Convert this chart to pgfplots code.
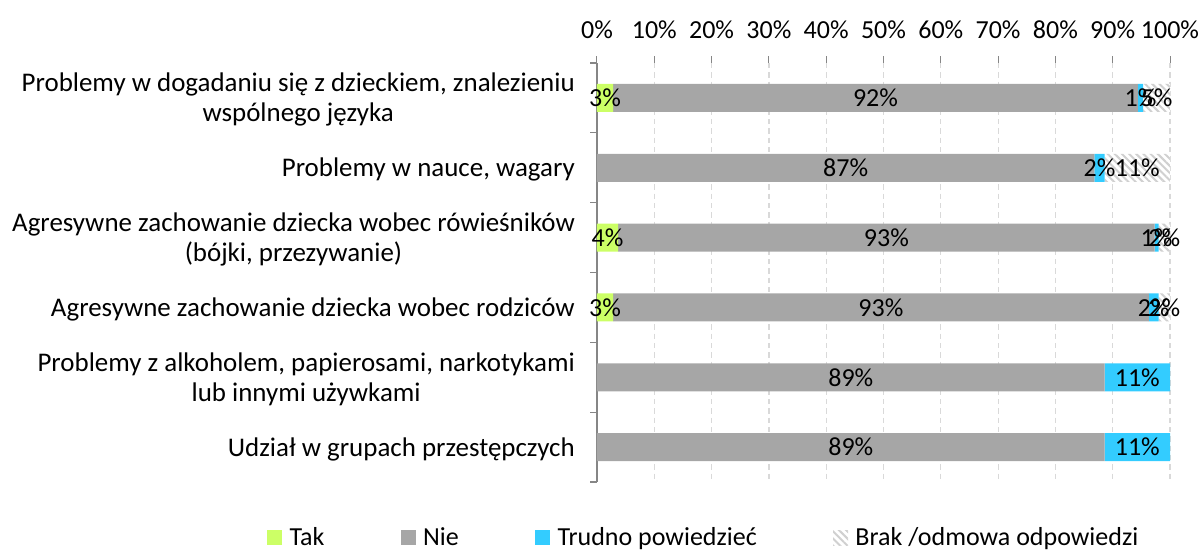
\documentclass[border=0pt]{standalone}
\usepackage{fontspec}
\setmainfont{Carlito}
\usepackage{pgfplots}
\pgfplotsset{compat=1.18}
\usetikzlibrary{patterns.meta}
\definecolor{cTak}{HTML}{CCFF66}
\definecolor{cNie}{HTML}{A6A6A6}
\definecolor{cTP}{HTML}{33CCFF}
\definecolor{hatch}{HTML}{D0D0D0}
\definecolor{axisgray}{HTML}{868686}
\definecolor{gridgray}{HTML}{D9D9D9}
\newcommand{\chartfont}{\fontsize{19.5pt}{23.5pt}\selectfont}
\newcommand{\catfont}{\fontsize{20.2pt}{22.5pt}\selectfont}

\begin{document}
\begin{tikzpicture}
\path[use as bounding box] (0pt,0pt) rectangle (902.25pt,413.25pt);
\begin{axis}[
  at={(447.75pt,51.75pt)}, anchor=south west,
  scale only axis, width=429.75pt, height=314.25pt,
  xbar stacked, bar width=21pt,
  xmin=0, xmax=100, ymin=-0.5, ymax=5.5, y dir=reverse,
  axis x line*=top, axis y line*=left,
  x axis line style={draw=none},
  y axis line style={draw=axisgray, line width=0.9pt},
  tick align=outside, major tick length=5pt,
  xtick={0,10,...,100},
  xticklabels={0\%,10\%,20\%,30\%,40\%,50\%,60\%,70\%,80\%,90\%,100\%},
  xticklabel style={inner sep=0pt, yshift=13pt},
  x tick style={draw=axisgray, line width=0.75pt},
  y tick style={draw=axisgray, line width=0.9pt},
  xmajorgrids,
  grid style={gridgray, dash pattern=on 4pt off 3pt, line width=0.9pt},
  ytick={-0.5,0.5,...,5.5}, yticklabels={},
  extra y ticks={0,1,2,3,4,5},
  extra y tick labels={
    {Problemy w dogadaniu się z dzieckiem, znalezieniu\\wspólnego języka},
    {Problemy w nauce, wagary},
    {Agresywne zachowanie dziecka wobec rówieśników\\(bójki, przezywanie)},
    {Agresywne zachowanie dziecka wobec rodziców},
    {Problemy z alkoholem, papierosami, narkotykami\\lub innymi używkami},
    {Udział w grupach przestępczych}},
  extra y tick style={major tick length=0pt},
  yticklabel style={align=center, inner sep=0pt, xshift=-16.5pt, font=\catfont, yshift=-1.5pt},
  font=\chartfont,
  legend image code/.code={\draw[#1, draw=none] (0pt,-5.625pt) rectangle (11.25pt,5.625pt);},
  legend columns=4,
  legend style={at={(-0.5759,-0.1330)}, anchor=west, draw=none, fill=none,
    inner sep=0pt, font=\chartfont, nodes={inner sep=0pt},
    /tikz/every even column/.append style={column sep=57.25pt},
    /tikz/every odd column/.append style={column sep=5.5pt}},
]
\addplot[fill=cTak, draw=none] coordinates {(2.8,0) (0,1) (3.7,2) (2.8,3) (0,4) (0,5)};
\addlegendentry{Tak}
\addplot[fill=cNie, draw=none] coordinates {(91.6,0) (86.8,1) (93.6,2) (93.5,3) (88.6,4) (88.6,5)};
\addlegendentry{Nie}
\addplot[fill=cTP, draw=none] coordinates {(0.9,0) (1.8,1) (0.7,2) (1.7,3) (11.4,4) (11.4,5)};
\addlegendentry{Trudno powiedzieć}
\addplot[fill=white, draw=none,
  postaction={pattern={Lines[angle=-45,distance=3.8pt,line width=1.5pt]}, pattern color=hatch}]
  coordinates {(4.7,0) (11.4,1) (2.0,2) (2.0,3) (0,4) (0,5)};
\addlegendentry{Brak /odmowa odpowiedzi}
\end{axis}
% data labels, centred in their segments
\begin{axis}[
  at={(447.75pt,51.75pt)}, anchor=south west,
  scale only axis, width=429.75pt, height=314.25pt,
  xmin=0, xmax=100, ymin=-0.5, ymax=5.5, y dir=reverse,
  hide axis, clip=false, font=\chartfont,
]
\addplot[draw=none, mark=none, nodes near coords, point meta=explicit symbolic,
  every node near coord/.append style={anchor=center, inner sep=0pt, text=black, font=\chartfont}]
  coordinates {
  (1.4,0) [3\%] (48.6,0) [92\%] (94.85,0) [1\%] (97.65,0) [5\%]
  (43.4,1) [87\%] (87.7,1) [2\%] (94.3,1) [11\%]
  (1.85,2) [4\%] (50.5,2) [93\%] (97.65,2) [1\%] (99.0,2) [2\%]
  (1.4,3) [3\%] (49.55,3) [93\%] (97.15,3) [2\%] (99.0,3) [2\%]
  (44.3,4) [89\%] (94.3,4) [11\%]
  (44.3,5) [89\%] (94.3,5) [11\%]
  };
\end{axis}
\end{tikzpicture}
\end{document}
